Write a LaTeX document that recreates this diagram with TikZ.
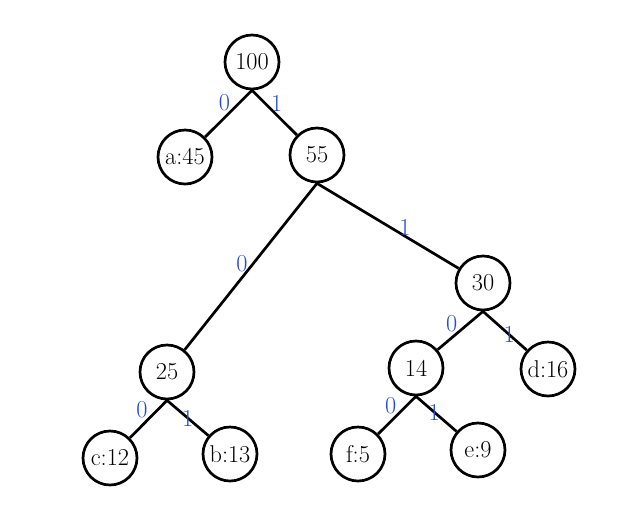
\documentclass[tikz,border=0pt]{standalone}
\usepackage{xcolor}
\usepackage{tikz}
\usetikzlibrary{positioning}
\definecolor{bitblue}{RGB}{35,75,215}

\begin{document}
\begin{tikzpicture}[
      x=0.03cm, y=-0.03cm,
      tnode/.style={circle, draw, line width=2.3pt, minimum size=1.62cm, inner sep=0pt, font=\huge},
      link/.style={line width=2.3pt},
      bit/.style={text=bitblue, font=\huge, inner sep=1pt}
    ]
      \useasboundingbox (0,0) rectangle (634,522);

      % Nodes
      \node[tnode] (n100) at (252,62) {100};
      \node[tnode] (a45) at (185,157) {a:45};
      \node[tnode] (n55) at (317,155) {55};
      \node[tnode] (n30) at (483,283) {30};
      \node[tnode] (n25) at (167,372) {25};
      \node[tnode] (n14) at (416,368) {14};
      \node[tnode] (d16) at (548,369) {d:16};
      \node[tnode] (c12) at (110,458) {c:12};
      \node[tnode] (b13) at (230,454) {b:13};
      \node[tnode] (f5) at (358,454) {f:5};
      \node[tnode] (e9) at (478,450) {e:9};

      % Links
      \draw[link] (n100.south) -- node[bit, pos=.45, above left=-2pt] {0} (a45);
      \draw[link] (n100.south) -- node[bit, pos=.55, above=1pt] {1} (n55);
      \draw[link] (n55.south) -- node[bit, pos=.48, left=3pt] {0} (n25);
      \draw[link] (n55.south) -- node[bit, pos=.62, above=-2pt] {1} (n30);
      \draw[link] (n30.south) -- node[bit, pos=.55, above left=-2pt] {0} (n14);
      \draw[link] (n30.south) -- node[bit, pos=.6] {1} (d16);
      \draw[link] (n25.south) -- node[bit, pos=.5, above left=-2pt] {0} (c12);
      \draw[link] (n25.south) -- node[bit, pos=.5] {1} (b13);
      \draw[link] (n14.south) -- node[bit, pos=.5, above left=-2pt] {0} (f5);
      \draw[link] (n14.south) -- node[bit, pos=.45] {1} (e9);

    \end{tikzpicture}
\end{document}
